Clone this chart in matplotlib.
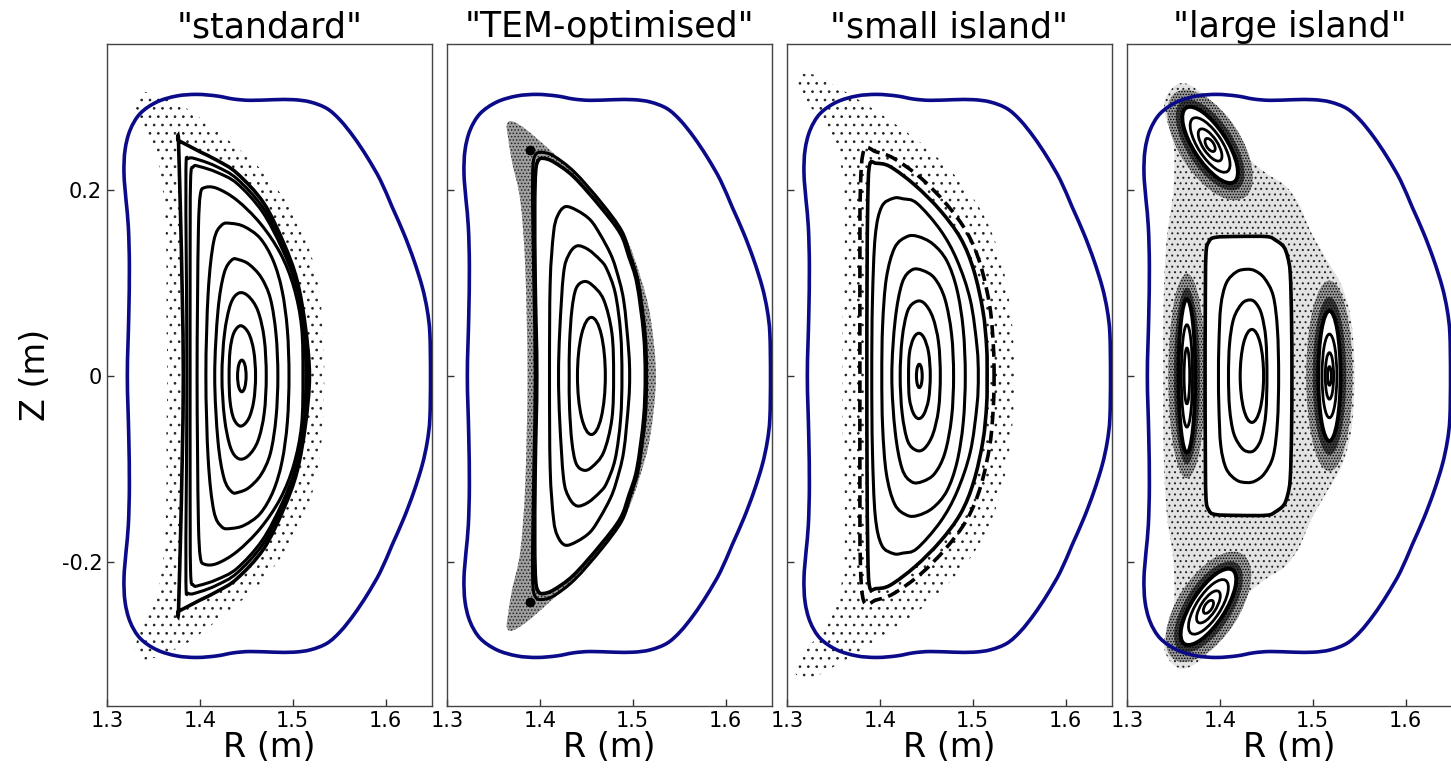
"""
Poincare plots of four magnetic configurations with the vessel boundary.
"""

import numpy as np
import matplotlib
matplotlib.use("Agg")
import matplotlib.pyplot as plt
from matplotlib.path import Path
from matplotlib.patches import PathPatch, Ellipse

# ── Data (upper halves, right midplane -> left midplane; lower half is mirrored) ──
titles = ['"standard"', '"TEM-optimised"', '"small island"', '"large island"']
x_ticks = [1.3, 1.4, 1.5, 1.6]
x_tick_labels = ["1.3", "1.4", "1.5", "1.6"]
y_ticks = [-0.2, 0.0, 0.2]
y_tick_labels = ["-0.2", "0", "0.2"]

bound_R = [1.6484, 1.6477, 1.6449, 1.6395, 1.6305, 1.6197, 1.6071, 1.5945, 1.5801,
           1.5657, 1.5513, 1.5370, 1.5190, 1.5010, 1.4794, 1.4543, 1.4363, 1.4183,
           1.3968, 1.3752, 1.3536, 1.3356, 1.3248, 1.3194, 1.3183, 1.3205, 1.3230,
           1.3241, 1.3234, 1.3219]
bound_Z = [0.0, 0.0455, 0.0706, 0.0957, 0.1244, 0.1530, 0.1817, 0.2104, 0.2355,
           0.2570, 0.2749, 0.2875, 0.2946, 0.2971, 0.2971, 0.2964, 0.2978, 0.3011,
           0.3028, 0.3011, 0.2946, 0.2821, 0.2642, 0.2427, 0.2176, 0.1889, 0.1602,
           0.1172, 0.0634, 0.0]

# "standard"
std_R = [
    [1.4600, 1.4580, 1.4525, 1.4440, 1.4365, 1.4325, 1.4315],
    [1.4715, 1.4693, 1.4625, 1.4520, 1.4417, 1.4330, 1.4265, 1.4238],
    [1.4840, 1.4820, 1.4760, 1.4660, 1.4530, 1.4420, 1.4345, 1.4260, 1.4195, 1.4160],
    [1.4960, 1.4942, 1.4885, 1.4790, 1.4650, 1.4480, 1.4340, 1.4237, 1.4150, 1.4090, 1.4065],
    [1.5110, 1.5095, 1.5010, 1.4866, 1.4651, 1.4399, 1.4183, 1.4050, 1.4005, 1.3985, 1.3975, 1.3970],
    [1.5140, 1.5120, 1.5030, 1.4885, 1.4670, 1.4400, 1.4183, 1.4003, 1.3930, 1.3900, 1.3895, 1.3895],
    [1.5160, 1.5128, 1.5038, 1.4893, 1.4679, 1.4400, 1.4183, 1.4003, 1.3880, 1.3850, 1.3855, 1.3860],
    [1.5180, 1.5136, 1.5046, 1.4902, 1.4687, 1.4400, 1.4183, 1.4003, 1.3870, 1.3770, 1.3770,
     1.3790, 1.3810, 1.3822],
]
std_Z = [
    [0.0, 0.027, 0.046, 0.054, 0.046, 0.027, 0.0],
    [0.0, 0.040, 0.070, 0.086, 0.089, 0.077, 0.045, 0.0],
    [0.0, 0.045, 0.083, 0.106, 0.120, 0.1250, 0.1248, 0.110, 0.070, 0.0],
    [0.0, 0.050, 0.092, 0.124, 0.148, 0.1605, 0.164, 0.1624, 0.145, 0.090, 0.0],
    [0.0, 0.053, 0.096, 0.132, 0.164, 0.189, 0.2018, 0.2025, 0.195, 0.160, 0.080, 0.0],
    [0.0, 0.053, 0.099, 0.137, 0.177, 0.207, 0.219, 0.225, 0.225, 0.210, 0.110, 0.0],
    [0.0, 0.053, 0.101, 0.140, 0.181, 0.212, 0.225, 0.232, 0.234, 0.222, 0.110, 0.0],
    [0.0, 0.053, 0.103, 0.143, 0.186, 0.218, 0.232, 0.241, 0.248, 0.2531, 0.2531,
     0.180, 0.090, 0.0],
]
std_axis = (1.4452, 0.0, 0.0092, 0.034)        # centre R, centre Z, width, height
std_chaos_R = [1.5340, 1.5320, 1.5250, 1.5130, 1.4980, 1.4800, 1.4600, 1.4350, 1.4100,
               1.3850, 1.3600, 1.3400, 1.3300, 1.3380, 1.3550, 1.3620, 1.3640, 1.3640, 1.3650]
std_chaos_Z = [0.0, 0.060, 0.110, 0.150, 0.180, 0.205, 0.228, 0.250, 0.270,
               0.288, 0.300, 0.305, 0.295, 0.270, 0.230, 0.180, 0.120, 0.060, 0.0]

# "TEM-optimised"
tem_R = [
    [1.4794, 1.4776, 1.4687, 1.4560, 1.4471, 1.4390, 1.4345, 1.4320, 1.4316],
    [1.4884, 1.4870, 1.4812, 1.4720, 1.4650, 1.4520, 1.4399, 1.4310, 1.4255, 1.4215, 1.4201],
    [1.4967, 1.4956, 1.4902, 1.4820, 1.4758, 1.4650, 1.4543, 1.4400, 1.4273, 1.4190, 1.4147,
     1.4111, 1.4104],
    [1.5150, 1.5134, 1.5062, 1.4976, 1.4882, 1.4665, 1.4375, 1.4150, 1.4020, 1.3955, 1.3925,
     1.3922, 1.3935, 1.3950],
    [1.5136, 1.5118, 1.5046, 1.4960, 1.4866, 1.4650, 1.4363, 1.4150, 1.4040, 1.3985, 1.3955,
     1.3945, 1.3950, 1.3967],
]
tem_Z = [
    [0.0, 0.046, 0.082, 0.098, 0.1014, 0.094, 0.071, 0.035, 0.0],
    [0.0, 0.046, 0.089, 0.115, 0.1247, 0.136, 0.1398, 0.130, 0.110, 0.050, 0.0],
    [0.0, 0.028, 0.0817, 0.115, 0.1319, 0.152, 0.1678, 0.178, 0.182, 0.172, 0.1534,
     0.0996, 0.0],
    [0.0, 0.046, 0.100, 0.129, 0.156, 0.186, 0.219, 0.2365, 0.2405, 0.238, 0.225,
     0.180, 0.100, 0.0],
    [0.0, 0.046, 0.0996, 0.128, 0.1534, 0.1821, 0.2143, 0.2300, 0.2340, 0.2320, 0.220,
     0.180, 0.100, 0.0],
]
tem_axis = (1.4555, 0.0, 0.0300, 0.126)
tem_opoint_R = [1.3895, 1.3895]
tem_opoint_Z = [0.243, -0.243]
tem_chaos_R = [1.5250, 1.5190, 1.5082, 1.4938, 1.4722, 1.4435, 1.4147, 1.3859, 1.3700,
               1.3644, 1.3660, 1.3700, 1.3788, 1.3842, 1.3867]
tem_chaos_Z = [0.0, 0.0638, 0.1068, 0.1462, 0.1785, 0.2108, 0.2394, 0.2645, 0.2740,
               0.2700, 0.2550, 0.2300, 0.1893, 0.1176, 0.0]

# "small island"
sml_R = [
    [1.4543, 1.4525, 1.4475, 1.4417, 1.4360, 1.4318, 1.4309],
    [1.4651, 1.4632, 1.4570, 1.4480, 1.4392, 1.4300, 1.4240, 1.4219],
    [1.4794, 1.4772, 1.4700, 1.4590, 1.4460, 1.4345, 1.4240, 1.4165, 1.4129],
    [1.4920, 1.4898, 1.4830, 1.4720, 1.4570, 1.4410, 1.4291, 1.4160, 1.4070, 1.4030, 1.4021],
    [1.5060, 1.5046, 1.4974, 1.4830, 1.4651, 1.4399, 1.4250, 1.4147, 1.4020, 1.3950, 1.3920,
     1.3913],
    [1.5155, 1.5150, 1.5110, 1.5010, 1.4870, 1.4650, 1.4380, 1.4111, 1.3960, 1.3890, 1.3870,
     1.3862, 1.3860],
]
sml_Z = [
    [0.0, 0.025, 0.041, 0.0459, 0.040, 0.024, 0.0],
    [0.0, 0.036, 0.063, 0.078, 0.0800, 0.070, 0.040, 0.0],
    [0.0, 0.045, 0.083, 0.105, 0.1135, 0.1140, 0.100, 0.060, 0.0],
    [0.0, 0.050, 0.093, 0.124, 0.142, 0.150, 0.1498, 0.138, 0.105, 0.055, 0.0],
    [0.0, 0.0315, 0.0817, 0.1247, 0.1570, 0.1857, 0.1905, 0.1911, 0.182, 0.150, 0.080, 0.0],
    [0.0, 0.031, 0.070, 0.114, 0.148, 0.178, 0.205, 0.2251, 0.2287, 0.2270, 0.190,
     0.100, 0.0],
]
sml_axis = (1.4425, 0.0, 0.0062, 0.025)
sml_chain_R = [1.5230, 1.5222, 1.5185, 1.5085, 1.4940, 1.4715, 1.4440, 1.4150, 1.3960,
               1.3830, 1.3790, 1.3785, 1.3785]
sml_chain_Z = [0.0, 0.033, 0.074, 0.119, 0.154, 0.185, 0.213, 0.234, 0.241,
               0.243, 0.200, 0.100, 0.0]
sml_chaos_R = [1.5450, 1.5420, 1.5330, 1.5180, 1.4980, 1.4720, 1.4450, 1.4150, 1.3850,
               1.3550, 1.3250, 1.3080, 1.3200, 1.3450, 1.3600, 1.3620, 1.3600, 1.3600]
sml_chaos_Z = [0.0, 0.060, 0.115, 0.160, 0.195, 0.225, 0.250, 0.272, 0.292,
               0.310, 0.325, 0.318, 0.295, 0.265, 0.215, 0.140, 0.060, 0.0]

# "large island"
big_R = [
    [1.4507, 1.4495, 1.4450, 1.4390, 1.4327, 1.4240, 1.4150, 1.4105, 1.4093],
    [1.4633, 1.4620, 1.4575, 1.4480, 1.4380, 1.4291, 1.4180, 1.4070, 1.4010, 1.3990, 1.3985],
    [1.4776, 1.4772, 1.4758, 1.4730, 1.4687, 1.4600, 1.4507, 1.4200, 1.3950, 1.3880, 1.3850,
     1.3843, 1.3841],
]
big_Z = [
    [0.0, 0.040, 0.066, 0.078, 0.0817, 0.078, 0.062, 0.035, 0.0],
    [0.0, 0.050, 0.086, 0.105, 0.113, 0.1147, 0.112, 0.100, 0.075, 0.035, 0.0],
    [0.0, 0.060, 0.110, 0.128, 0.139, 0.146, 0.1498, 0.1500, 0.1490, 0.1440, 0.130,
     0.070, 0.0],
]
big_axis = (1.4345, 0.0, 0.0252, 0.100)
# islands: centre R, centre Z, tilt (deg)
island_R = [1.3645, 1.5180, 1.3895, 1.3877]
island_Z = [0.0, 0.0, 0.2484, -0.2484]
island_tilt = [90, 90, -57, 57]
# nested island contours (along the tilt, across the tilt), one row per island
island_long = [[0.165, 0.110, 0.060], [0.140, 0.090, 0.050, 0.020],
               [0.095, 0.068, 0.040, 0.016], [0.095, 0.068, 0.040, 0.016]]
island_short = [[0.018, 0.012, 0.006], [0.024, 0.016, 0.009, 0.004],
                [0.036, 0.026, 0.016, 0.008], [0.036, 0.026, 0.016, 0.008]]
# dark chaotic halo round each island: outer (faint) and inner (dense) extent
halo_long = [[0.220, 0.190], [0.205, 0.170], [0.135, 0.112], [0.135, 0.112]]
halo_short = [[0.040, 0.028], [0.050, 0.036], [0.066, 0.050], [0.066, 0.050]]
big_chaos_R = [1.5450, 1.5420, 1.5320, 1.5150, 1.4980, 1.4850, 1.4700, 1.4500, 1.4300,
               1.4150, 1.4000, 1.3800, 1.3600, 1.3450, 1.3400, 1.3500, 1.3500, 1.3430,
               1.3400, 1.3390, 1.3390]
big_chaos_Z = [0.0, 0.055, 0.095, 0.125, 0.155, 0.185, 0.205, 0.218, 0.235,
               0.260, 0.285, 0.305, 0.315, 0.305, 0.285, 0.250, 0.200, 0.150,
               0.100, 0.050, 0.0]


# ── helpers ──────────────────────────────────────────────────────────────────
def closed(r, z):
    """Add the mirrored lower half to an upper-half contour."""
    r, z = list(r), list(z)
    return r + r[-2:0:-1], z + [-v for v in z[-2:0:-1]]


def smooth_path(r, z):
    """Closed smooth Bezier path through the given points."""
    p = np.column_stack([r, z])
    n = len(p)
    verts, codes = [p[0]], [Path.MOVETO]
    for i in range(n):
        a, b, c, d = p[i - 1], p[i], p[(i + 1) % n], p[(i + 2) % n]
        verts += [b + (c - a) / 6, c - (d - b) / 6, c]
        codes += [Path.CURVE4] * 3
    return Path(verts, codes)


def surface(ax, r, z, lw=2.2, color="black", ls="-", face="none", zorder=4):
    ax.add_patch(PathPatch(smooth_path(*closed(r, z)), facecolor=face, edgecolor=color,
                           lw=lw, ls=ls, zorder=zorder))


def chaos(ax, r, z, hatch, face="none", zorder=1):
    ax.add_patch(PathPatch(smooth_path(*closed(r, z)), facecolor=face, edgecolor="#222222",
                           lw=0, hatch=hatch, zorder=zorder))


def axis_ellipse(ax, spec, lw=2.2):
    ax.add_patch(Ellipse(spec[:2], spec[2], spec[3], facecolor="none", edgecolor="black",
                         lw=lw, zorder=4))


def nested(ax, r_list, z_list):
    for k, (r, z) in enumerate(zip(r_list, z_list)):
        last = k == len(r_list) - 1
        surface(ax, r, z, lw=2.6 if last else 2.2, face="white" if last else "none",
                zorder=3 if last else 4)


# ── figure ───────────────────────────────────────────────────────────────────
plt.rcParams["hatch.linewidth"] = 0.7
fig = plt.figure(figsize=(14.51, 7.75), dpi=100)
lefts = [107, 447, 787, 1127]
axes = [fig.add_axes([l / 1451, 69 / 775, 325 / 1451, 662 / 775]) for l in lefts]

# "standard"
ax = axes[0]
chaos(ax, std_chaos_R, std_chaos_Z, "..")
nested(ax, std_R, std_Z)
axis_ellipse(ax, std_axis)

# "TEM-optimised"
ax = axes[1]
chaos(ax, tem_chaos_R, tem_chaos_Z, ".....", face="#a0a0a0")
nested(ax, tem_R, tem_Z)
axis_ellipse(ax, tem_axis)
ax.plot(tem_opoint_R, tem_opoint_Z, "o", color="black", ms=6, zorder=4)

# "small island"
ax = axes[2]
chaos(ax, sml_chaos_R, sml_chaos_Z, "..")
nested(ax, sml_R, sml_Z)
axis_ellipse(ax, sml_axis)
surface(ax, sml_chain_R, sml_chain_Z, lw=2.6, ls=(0, (3.5, 1.8)))

# "large island"
ax = axes[3]
chaos(ax, big_chaos_R, big_chaos_Z, "...", face="#e2e2e2")
for k in range(len(island_R)):
    centre = (island_R[k], island_Z[k])
    for lo, sh, face in zip(halo_long[k], halo_short[k], ["#9a9a9a", "#3a3a3a"]):
        ax.add_patch(Ellipse(centre, lo, sh, angle=island_tilt[k], facecolor=face,
                             edgecolor="black", lw=0, hatch="......", zorder=2))
    for j, (lo, sh) in enumerate(zip(island_long[k], island_short[k])):
        ax.add_patch(Ellipse(centre, lo, sh, angle=island_tilt[k],
                             facecolor="white" if j == 0 else "none", edgecolor="black",
                             lw=2.8 if j == 0 else 2.0, zorder=3 if j == 0 else 4))
nested(ax, big_R, big_Z)
axis_ellipse(ax, big_axis)

for i, ax in enumerate(axes):
    surface(ax, bound_R, bound_Z, lw=2.6, color="#0b0b8a", zorder=5)
    ax.set_xlim(1.3, 1.65)
    ax.set_ylim(-0.355, 0.357)
    ax.set_title(titles[i], fontsize=25, pad=4)
    ax.set_xticks(x_ticks)
    ax.set_xticklabels(x_tick_labels)
    ax.set_yticks(y_ticks)
    ax.set_yticklabels(y_tick_labels if i == 0 else [])
    ax.tick_params(direction="in", length=5, width=1, labelsize=15, color="#333333")
    ax.set_xlabel("R (m)", fontsize=24, labelpad=0)
    for s in ax.spines.values():
        s.set_color("#444444")
        s.set_linewidth(1.0)

axes[0].set_ylabel("Z (m)", fontsize=24, labelpad=7)

plt.savefig("out.png", dpi=100)
plt.close()
print("Saved: out.png")
